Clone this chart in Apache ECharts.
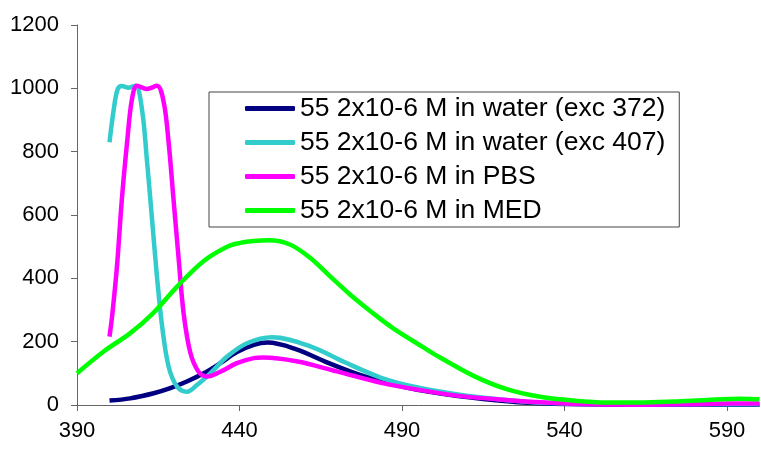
<!DOCTYPE html>
<html>
<head>
<meta charset="utf-8">
<script src="https://cdn.jsdelivr.net/npm/echarts@6/dist/echarts.min.js"></script>
<style>html,body{margin:0;padding:0;background:#fff}#c{width:761px;height:449px}</style>
</head>
<body>
<div id="c"></div>
<script>
const seriesNames = [
  '55 2x10-6 M in water (exc 372)',
  '55 2x10-6 M in water (exc 407)',
  '55 2x10-6 M in PBS',
  '55 2x10-6 M in MED'
];
const xTicks = [390, 440, 490, 540, 590];
const yTicks = [0, 200, 400, 600, 800, 1000, 1200];

const water372X = [400, 406.4, 413.6, 418.7, 423.8, 429, 434.1, 439.2, 444.4, 448.6, 457.5, 467.1, 478, 489, 501.4, 515, 528.8, 545, 570, 600];
const water372Y = [14, 21, 37, 53, 74, 100, 132, 167, 190, 197, 176, 134, 92, 61, 37, 19, 7, 2, 1, 1];

const water407X = [400, 401.3, 402.5, 403.8, 405.9, 408, 410, 411.5, 413.1, 414.6, 416.2, 418.2, 420.8, 423.8, 426.9, 431, 436.2, 442.3, 450, 461.6, 472.6, 483.6, 494.5, 508.2, 522, 535.6, 550, 575, 600];
const water407Y = [830, 933, 997, 1007, 1002, 1008, 933, 775, 585, 406, 248, 121, 58, 42, 63, 100, 153, 195, 214, 186, 134, 86, 56, 32, 16, 6, 3, 2, 2];

const pbsX = [400, 400.8, 402.3, 403.8, 405.4, 406.9, 408.5, 411.5, 414.6, 416.7, 418.2, 419.7, 421.3, 422.8, 424.9, 427.4, 430, 434.1, 439.2, 444.4, 447.3, 457.5, 469.9, 483.6, 494.5, 508.2, 522, 535.6, 549, 565, 576.7, 590.4, 600];
const pbsY = [216, 280, 438, 649, 828, 965, 1008, 998, 1008, 955, 828, 649, 459, 290, 164, 105, 90, 105, 132, 148, 150, 138, 106, 70, 49, 28, 16, 7, 2, 1, 2, 5, 5];

const medX = [390, 398.2, 406.4, 413.6, 420.8, 429, 436.2, 440.2, 444.4, 449, 455.5, 461.7, 467.8, 474, 480.2, 487.3, 496.6, 501.7, 512, 522.2, 532.5, 542.7, 553, 563.2, 573.5, 583.7, 594, 600];
const medY = [100, 169, 227, 292, 374, 455, 500, 512, 518, 520, 507, 465, 407, 349, 297, 242, 182, 150, 92, 50, 26, 14, 8, 8, 11, 16, 20, 18];

const colors = ['#000080', '#33CCCC', '#FF00FF', '#00FF00'];
const xs = [water372X, water407X, pbsX, medX];
const ys = [water372Y, water407Y, pbsY, medY];

const chart = echarts.init(document.getElementById('c'));
const FONT = '"Liberation Sans", Arial, sans-serif';
chart.setOption({
  animation: false,
  grid: { left: 77, top: 25, right: 1.5, bottom: 44, containLabel: false },
  xAxis: {
    type: 'value', min: 390, max: 600, interval: 50,
    axisLine: { lineStyle: { color: '#666', width: 1 } },
    axisTick: { show: true, length: 6, lineStyle: { color: '#666' }, customValues: xTicks },
    axisLabel: { color: '#000', fontSize: 22, fontFamily: FONT, margin: 15, customValues: xTicks, formatter: v => String(v) },
    splitLine: { show: false }
  },
  yAxis: {
    type: 'value', min: 0, max: 1200, interval: 200,
    axisLine: { show: true, lineStyle: { color: '#666', width: 1 } },
    axisTick: { show: true, length: 6, lineStyle: { color: '#666' } },
    axisLabel: { color: '#000', fontSize: 22, fontFamily: FONT, margin: 18, formatter: v => String(v) },
    splitLine: { show: false }
  },
  legend: {
    orient: 'vertical', left: 209, top: 92,
    padding: [3, 14, 3, 36],
    itemWidth: 50, itemHeight: 5, itemGap: 7,
    icon: 'roundRect',
    borderColor: '#444', borderWidth: 1,
    textStyle: { fontSize: 26.5, fontFamily: FONT, color: '#000', lineHeight: 26, padding: [0, 0, 0, 0] },
    data: seriesNames
  },
  series: seriesNames.map((n, i) => ({
    name: n, type: 'line', smooth: 0.35, showSymbol: false,
    lineStyle: { color: colors[i], width: 4.5 },
    itemStyle: { color: colors[i] },
    data: xs[i].map((x, k) => [x, ys[i][k]])
  }))
});
</script>
</body>
</html>
